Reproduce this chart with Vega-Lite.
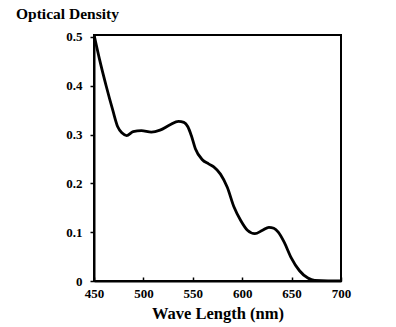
{
  "$schema": "https://vega.github.io/schema/vega-lite/v6.json",
  "autosize": "none",
  "width": 247,
  "height": 246,
  "padding": {"left": 94, "top": 35, "right": 55, "bottom": 46},
  "background": "white",
  "title": {
    "text": "Optical Density",
    "anchor": "start",
    "frame": "group",
    "dx": -78,
    "offset": 8,
    "font": "Liberation Serif",
    "fontSize": 15.5,
    "fontWeight": "bold",
    "color": "black"
  },
  "config": {
    "view": {"stroke": "black", "strokeWidth": 2},
    "axis": {
      "domainColor": "black",
      "domainWidth": 2,
      "tickColor": "black",
      "tickWidth": 1.5,
      "grid": false,
      "labelFont": "Liberation Serif",
      "labelFontWeight": "bold",
      "labelFontSize": 13,
      "labelColor": "black",
      "titleFont": "Liberation Serif",
      "titleFontWeight": "bold",
      "titleColor": "black"
    }
  },
  "data": {
    "values": [
      {"wl": 450, "od": 0.505},
      {"wl": 455.6, "od": 0.454},
      {"wl": 462.4, "od": 0.399},
      {"wl": 469, "od": 0.35},
      {"wl": 474, "od": 0.316},
      {"wl": 478.5, "od": 0.303},
      {"wl": 483, "od": 0.298},
      {"wl": 489.6, "od": 0.306},
      {"wl": 498, "od": 0.308},
      {"wl": 508, "od": 0.305},
      {"wl": 516.8, "od": 0.309},
      {"wl": 527, "od": 0.32},
      {"wl": 535.5, "od": 0.327},
      {"wl": 541, "od": 0.325},
      {"wl": 545, "od": 0.316},
      {"wl": 548.5, "od": 0.298},
      {"wl": 552.6, "od": 0.271},
      {"wl": 559.4, "od": 0.249},
      {"wl": 566, "od": 0.24},
      {"wl": 571.2, "od": 0.234},
      {"wl": 578, "od": 0.219},
      {"wl": 584.9, "od": 0.192},
      {"wl": 591.6, "od": 0.152},
      {"wl": 598.5, "od": 0.124},
      {"wl": 605.3, "od": 0.104},
      {"wl": 612.8, "od": 0.097},
      {"wl": 620.6, "od": 0.104},
      {"wl": 627, "od": 0.11},
      {"wl": 632, "od": 0.108},
      {"wl": 636.5, "od": 0.1},
      {"wl": 642.6, "od": 0.079},
      {"wl": 649.5, "od": 0.048},
      {"wl": 658, "od": 0.021},
      {"wl": 666.5, "od": 0.006},
      {"wl": 673.3, "od": 0.001},
      {"wl": 686.9, "od": 0},
      {"wl": 700, "od": 0}
    ]
  },
  "mark": {"type": "line", "color": "black", "strokeWidth": 2.8, "interpolate": "monotone", "clip": true},
  "encoding": {
    "x": {
      "field": "wl",
      "type": "quantitative",
      "scale": {"domain": [450, 700], "nice": false, "zero": false},
      "axis": {
        "values": [450, 500, 550, 600, 650, 700],
        "tickSize": -4,
        "labelPadding": 10,
        "labelFlush": false,
        "title": "Wave Length (nm)",
        "titleFontSize": 16.5,
        "titlePadding": 5
      }
    },
    "y": {
      "field": "od",
      "type": "quantitative",
      "scale": {"domain": [0, 0.504], "nice": false},
      "axis": {
        "values": [0, 0.1, 0.2, 0.3, 0.4, 0.5],
        "format": "~g",
        "tickSize": 4,
        "labelPadding": 8,
        "labelFlush": false,
        "title": null
      }
    }
  }
}
